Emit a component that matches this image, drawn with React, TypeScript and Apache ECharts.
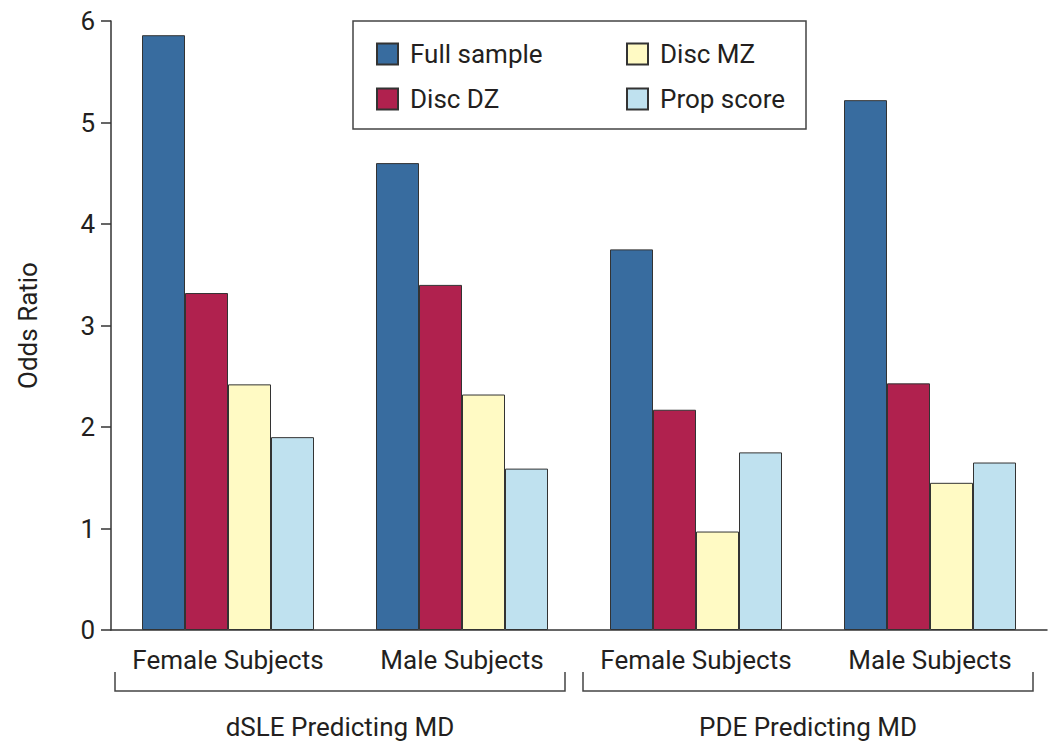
import React, { useEffect, useRef } from "react";
import * as echarts from "echarts";

const categories = ["Female Subjects", "Male Subjects", "Female Subjects ", "Male Subjects "];
const groupLabels = ["dSLE Predicting MD", "PDE Predicting MD"];
const seriesNames = ["Full sample", "Disc DZ", "Disc MZ", "Prop score"];
const fullSample = [5.86, 4.6, 3.75, 5.22];
const discDZ = [3.32, 3.4, 2.17, 2.43];
const discMZ = [2.42, 2.32, 0.97, 1.45];
const propScore = [1.9, 1.59, 1.75, 1.65];
const yTicks = [0, 1, 2, 3, 4, 5, 6];
const colors = ["#386c9f", "#b0214e", "#fffac4", "#bfe1ef"];

const FONT = "'Roboto', 'Liberation Sans', sans-serif";
const TXT = "#231f20";

export default function App() {
  const ref = useRef<HTMLDivElement>(null);
  useEffect(() => {
    if (!ref.current) return;
    const chart = echarts.init(ref.current, null, { renderer: "svg" });
    const values = [fullSample, discDZ, discMZ, propScore];
    const legendCommon = {
      orient: "vertical",
      top: 34,
      icon: "rect",
      itemWidth: 21,
      itemHeight: 21,
      itemGap: 15,
      textStyle: { fontFamily: FONT, fontSize: 26, lineHeight: 30, color: TXT, padding: [0, 0, 0, 7] },
    };
    chart.setOption({
      animation: false,
      backgroundColor: "#ffffff",
      textStyle: { fontFamily: FONT },
      grid: { left: 111, top: 21, right: 3, bottom: 123, containLabel: false },
      legend: [
        { ...legendCommon, data: [seriesNames[0], seriesNames[1]], left: 371 },
        { ...legendCommon, data: [seriesNames[2], seriesNames[3]], left: 621 },
      ],
      xAxis: {
        type: "category",
        data: categories,
        axisLine: { show: true, lineStyle: { color: "#333", width: 1.5 } },
        axisTick: { show: false },
        axisLabel: {
          interval: 0,
          margin: 17,
          fontFamily: FONT,
          fontSize: 26,
          color: TXT,
          formatter: (v: string) => v.trim(),
        },
      },
      yAxis: {
        type: "value",
        min: 0,
        max: 6,
        interval: 1,
        name: "Odds Ratio",
        nameLocation: "middle",
        nameGap: 70,
        nameTextStyle: { fontFamily: FONT, fontSize: 26, color: TXT },
        axisLine: { show: true, lineStyle: { color: "#333", width: 1.5 } },
        axisTick: { show: true, length: 10, lineStyle: { color: "#333", width: 1.5 } },
        splitLine: { show: false },
        axisLabel: {
          margin: 16,
          fontFamily: FONT,
          fontSize: 26,
          color: TXT,
          customValues: yTicks,
        },
      },
      series: seriesNames.map((name, i) => ({
        name,
        type: "bar",
        data: values[i],
        barWidth: 43,
        barGap: "0%",
        barCategoryGap: "26%",
        itemStyle: { color: colors[i], borderColor: "#333", borderWidth: 1 },
      })),
      graphic: [
        {
          type: "rect",
          shape: { x: 353, y: 21, width: 453, height: 108 },
          style: { fill: "none", stroke: "#444", lineWidth: 1.5 },
          z: 10,
        },
        {
          type: "polyline",
          shape: { points: [[115, 672], [115, 691], [565, 691], [565, 672]] },
          style: { fill: "none", stroke: "#444", lineWidth: 1.5 },
        },
        {
          type: "polyline",
          shape: { points: [[583, 672], [583, 691], [1033, 691], [1033, 672]] },
          style: { fill: "none", stroke: "#444", lineWidth: 1.5 },
        },
        {
          type: "text",
          x: 340,
          y: 727,
          style: {
            text: groupLabels[0],
            font: `26px ${FONT}`,
            fill: TXT,
            textAlign: "center",
            textVerticalAlign: "middle",
          },
        },
        {
          type: "text",
          x: 808,
          y: 727,
          style: {
            text: groupLabels[1],
            font: `26px ${FONT}`,
            fill: TXT,
            textAlign: "center",
            textVerticalAlign: "middle",
          },
        },
      ],
    });
    return () => chart.dispose();
  }, []);
  return (
    <div
      ref={ref}
      style={{ position: "fixed", left: 0, top: 0, width: 1050, height: 753, background: "#fff" }}
    />
  );
}
